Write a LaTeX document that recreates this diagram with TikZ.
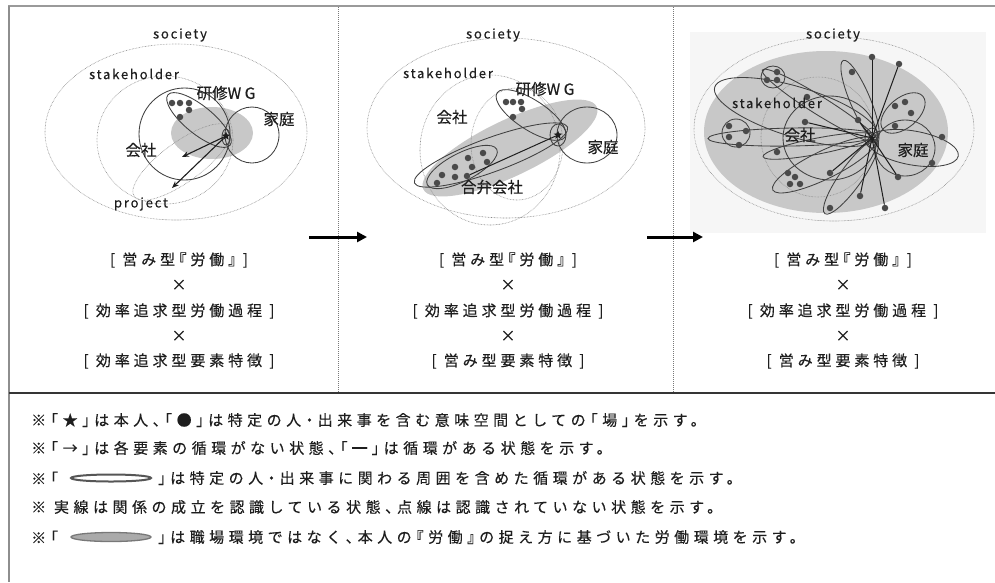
\documentclass[tikz,border=0pt]{standalone}
\usepackage{fontspec}
\usetikzlibrary{shapes.geometric,arrows.meta}
\newfontfamily\jprow[LetterSpace=26,RawFeature={+halt},FakeBold=0.3]{Noto Sans CJK JP}
\newfontfamily\jpnote[LetterSpace=30,RawFeature={+halt},FakeBold=0.3]{Noto Sans CJK JP}
\newfontfamily\jplab[FakeBold=0.35]{Noto Sans CJK JP}
\newfontfamily\latlab[LetterSpace=14,FakeBold=0.3]{Noto Sans CJK JP}
\definecolor{ink}{HTML}{1E1E1E}
\definecolor{fillg}{HTML}{C8C8C8}
\definecolor{dotc}{HTML}{4A4A4A}
\definecolor{dotl}{HTML}{8A8A8A}
\definecolor{bgp}{HTML}{F6F6F6}
\newcommand{\myell}[6]{\path[#1, rotate around={#4:(#2,#3)}] (#2,#3) ellipse [x radius=#5pt, y radius=#6pt];}
\tikzset{
  solidell/.style={draw=ink!85, line width=0.85pt},
  dotell/.style={draw=dotl, line width=0.6pt, dash pattern=on 0.6pt off 0.9pt},
  grayell/.style={fill=fillg, draw=none},
  dotm/.style={circle, fill=dotc, inner sep=0pt, minimum size=6.5pt},
  starm/.style={star, star points=5, star point ratio=2.3, fill=ink, inner sep=0pt, minimum size=9pt},
  lbl/.style={font=\jplab\fontsize{15.5}{16}\selectfont, text=ink, inner sep=0pt},
  latl/.style={font=\latlab\fontsize{13}{13}\selectfont, text=ink, inner sep=0pt},
  rowt/.style={font=\jprow\fontsize{15}{16}\selectfont, text=ink, inner sep=0pt},
  notet/.style={font=\jpnote\fontsize{15}{16}\selectfont, text=ink, inner sep=0pt, anchor=west},
  arr/.style={draw=ink, line width=1.1pt, -{Stealth[length=7pt,width=5.5pt]}},
  bigarr/.style={draw=black, line width=3pt, -{Triangle[length=10pt,width=10pt]}},
  spoke/.style={draw=ink, line width=1pt},
  divider/.style={draw=ink!60, line width=0.9pt, dash pattern=on 1pt off 1pt}
}
\begin{document}
\begin{tikzpicture}[x=1pt,y=-1pt]
\useasboundingbox (0,0) rectangle (995,582);
\fill[white] (0,0) rectangle (995,582);
% frame
\draw[draw=ink!45, line width=2pt] (8,6) -- (995,6);
\draw[draw=ink!50, line width=1.2pt] (9,6) -- (9,582);
\draw[draw=ink!90, line width=1.2pt] (9,393) -- (995,393);
\draw[divider] (338,7) -- (338,393);
\draw[divider] (673,7) -- (673,393);
% ================= Panel 1
\myell{grayell}{212}{133}{0}{41}{26}
\myell{dotell}{176}{132}{0}{131}{88}
\myell{dotell}{165}{140}{0}{68}{64}
\myell{dotell}{182}{162}{36}{59}{20}
\myell{solidell}{184.5}{134}{0}{45.5}{46}
\myell{solidell}{199}{120}{-39}{40}{14}
\myell{solidell}{252}{135}{0}{27}{28}
\myell{solidell}{226}{137}{0}{4}{8}
\node[dotm] (p1d1) at (172,103) {};
\node[dotm] (p1d2) at (180,103) {};
\node[dotm] (p1d3) at (189,103) {};
\node[dotm] (p1d4) at (189,110) {};
\node[dotm] (p1d5) at (180,117) {};
\node[starm] (s1) at (226,136) {};
\coordinate (p1a) at (182,157);
\coordinate (p1b) at (172,188);
\draw[arr] (s1) -- (p1a);
\draw[arr] (s1) -- (p1b);
\node[latl] (soc1) at (180,35) {society};
\node[latl] (stk1) at (134,74) {stakeholder};
\node[latl] (prj1) at (141,204) {project};
\node[lbl] (wg1) at (226,93) {研修W G};
\node[lbl] (fam1) at (279,119) {家庭};
\node[lbl] (co1) at (141,150) {会社};
% ================= Panel 2
\myell{grayell}{510}{148}{25.5}{96}{28}
\myell{dotell}{506}{128}{0}{139}{90}
\myell{dotell}{490}{150}{0}{70}{75}
\myell{dotell}{517}{144}{0}{46}{56}
\myell{solidell}{531}{115}{-33}{40.5}{15}
\myell{solidell}{587}{135}{0}{30}{28}
\myell{solidell}{491}{155}{20}{81.5}{17}
\myell{solidell}{462}{167}{27}{39}{14}
\myell{solidell}{558}{135}{0}{8}{11}
\node[dotm] (p2w1) at (506,102) {};
\node[dotm] (p2w2) at (513,102) {};
\node[dotm] (p2w3) at (521,102) {};
\node[dotm] (p2w4) at (522,109) {};
\node[dotm] (p2w5) at (513,117) {};
\node[dotm] (p2j1) at (442,175) {};
\node[dotm] (p2j2) at (437,183) {};
\node[dotm] (p2j3) at (455,167) {};
\node[dotm] (p2j4) at (455,177) {};
\node[dotm] (p2j5) at (467,176) {};
\node[dotm] (p2j6) at (468,158) {};
\node[dotm] (p2j7) at (472,167) {};
\node[dotm] (p2j8) at (483,153) {};
\node[dotm] (p2j9) at (487,162) {};
\node[starm] (s2) at (558,135) {};
\draw[spoke] (p2j5) -- (s2);
\node[latl] (soc2) at (493,35) {society};
\node[latl] (stk2) at (448,73) {stakeholder};
\node[lbl] (wg2) at (545,89) {研修W G};
\node[lbl] (co2) at (452,117) {会社};
\node[lbl] (fam2) at (603,147) {家庭};
\node[lbl] (jv2) at (492,187) {合弁会社};
% ================= Panel 3
\fill[bgp] (690,32) rectangle (986,233);
\myell{grayell}{826}{132}{0}{122}{81}
\myell{dotell}{834}{129}{0}{140}{92}
\myell{dotell}{818}{137}{0}{57}{60}
\myell{solidell}{830}{138}{0}{47}{42}
\myell{solidell}{905}{148}{0}{30}{28}
\myell{solidell}{773}{77}{0}{12}{11}
\myell{solidell}{736}{133}{0}{14}{14}
\myell{solidell}{792}{137}{1}{84}{9}
\myell{solidell}{818}{146}{11}{56}{8}
\myell{solidell}{796}{112}{-17}{85}{25}
\myell{solidell}{820}{106}{-32}{68}{9}
\myell{solidell}{860}{100}{113}{43}{10}
\myell{solidell}{851}{177}{54.5}{45}{11}
\myell{solidell}{824}{165}{26}{57}{14}
\myell{solidell}{903}{113}{40}{26}{15}
\myell{solidell}{913}{148}{-10}{46}{17}
\myell{solidell}{872}{138}{0}{7}{10}
\node[starm, minimum size=8pt] (hub) at (872,138) {};
\node[dotm] (q1) at (872,57) {};
\node[dotm] (q2) at (899,64) {};
\node[dotm] (q3) at (852,72) {};
\node[dotm] (q4) at (858,120) {};
\node[dotm] (q5) at (805,122) {};
\node[dotm] (q6) at (807,97) {};
\node[dotm] (q7) at (767,80) {};
\node[dotm] (q8) at (777,72) {};
\node[dotm] (q9) at (777,80) {};
\node[dotm] (q10) at (729,126) {};
\node[dotm] (q11) at (746,131) {};
\node[dotm] (q12) at (729,137) {};
\node[dotm] (q13) at (739,145) {};
\node[dotm] (q14) at (777,152) {};
\node[dotm] (q15) at (788,173) {};
\node[dotm] (q16) at (795,177) {};
\node[dotm] (q17) at (790,184) {};
\node[dotm] (q18) at (800,184) {};
\node[dotm] (q19) at (830,173) {};
\node[dotm] (q20) at (860,196) {};
\node[dotm] (q21) at (885,208) {};
\node[dotm] (q22) at (898,177) {};
\node[dotm] (q23) at (830,208) {};
\node[dotm] (q24) at (895,106) {};
\node[dotm] (q25) at (905,102) {};
\node[dotm] (q26) at (911,113) {};
\node[dotm] (q27) at (895,126) {};
\node[dotm] (q28) at (942,137) {};
\node[dotm] (q29) at (932,163) {};
\foreach \t in {q1,q2,q4,q5,q19,q20,q21,q22} \draw[spoke] (hub) -- (\t);
\node[latl] (soc3) at (833,35) {society};
\node[latl] (stk3) at (777,103) {stakeholder};
\node[lbl] (co3) at (800,135) {会社};
\node[lbl] (fam3) at (913,150) {家庭};
% big arrows
\coordinate (ar1s) at (309,237);
\coordinate (ar1e) at (367,237);
\coordinate (ar2s) at (647,237);
\coordinate (ar2e) at (703,237);
\draw[bigarr] (ar1s) -- (ar1e);
\draw[bigarr] (ar2s) -- (ar2e);
% formula rows
\node[rowt] (r11) at (179,260) {[ 営み型『労働』 ]};
\node[rowt] (r12) at (179,285) {×};
\node[rowt] (r13) at (179,311) {[ 効率追求型労働過程 ]};
\node[rowt] (r14) at (179,336) {×};
\node[rowt] (r15) at (179,361) {[ 効率追求型要素特徴 ]};
\node[rowt] (r21) at (508,260) {[ 営み型『労働』 ]};
\node[rowt] (r22) at (508,285) {×};
\node[rowt] (r23) at (508,311) {[ 効率追求型労働過程 ]};
\node[rowt] (r24) at (508,336) {×};
\node[rowt] (r25) at (508,361) {[ 営み型要素特徴 ]};
\node[rowt] (r31) at (843,260) {[ 営み型『労働』 ]};
\node[rowt] (r32) at (843,285) {×};
\node[rowt] (r33) at (843,311) {[ 効率追求型労働過程 ]};
\node[rowt] (r34) at (843,336) {×};
\node[rowt] (r35) at (843,361) {[ 営み型要素特徴 ]};
% notes
\node[notet] (n1) at (31,420) {※「★」は本人、「●」は特定の人・出来事を含む意味空間としての「場」を示す。};
\node[notet] (n2) at (31,448) {※「→」は各要素の循環がない状態、「━」は循環がある状態を示す。};
\node[notet] (n3a) at (31,478) {※「};
\path[draw=ink!75, line width=2pt] (111,478) ellipse [x radius=40pt, y radius=3.5pt];
\node[notet] (n3b) at (158,478) {」は特定の人・出来事に関わる周囲を含めた循環がある状態を示す。};
\node[notet] (n4) at (31,507) {※ 実線は関係の成立を認識している状態、点線は認識されていない状態を示す。};
\node[notet] (n5a) at (31,537) {※「};
\path[fill=fillg!85!black, draw=ink!60, line width=1.3pt] (111,537) ellipse [x radius=40pt, y radius=4.5pt];
\node[notet] (n5b) at (158,537) {」は職場環境ではなく、本人の『労働』の捉え方に基づいた労働環境を示す。};
\end{tikzpicture}
\end{document}
